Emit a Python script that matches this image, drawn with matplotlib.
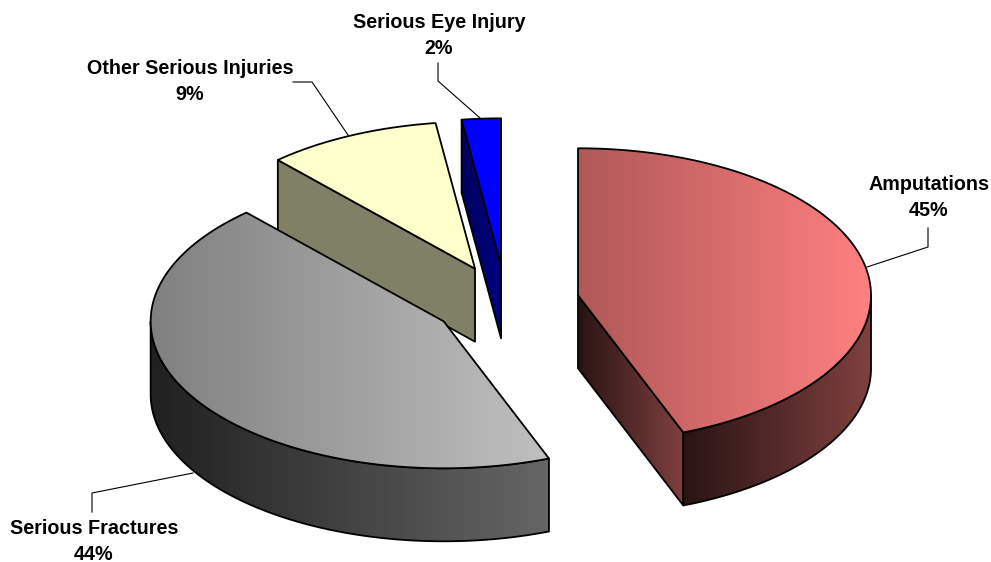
import numpy as np
import matplotlib
matplotlib.use('Agg')
import matplotlib.pyplot as plt
from matplotlib.colors import LinearSegmentedColormap
from matplotlib.patches import Polygon

plt.rcParams['font.family'] = ['Liberation Sans', 'DejaVu Sans']

# Data, clockwise from 12 o'clock
labels = ['Amputations', 'Serious Fractures', 'Other Serious Injuries', 'Serious Eye Injury']
pct_labels = ['45%', '44%', '9%', '2%']
values = [44.15, 44.1, 9.6, 2.15]

# colours: top left/right, rim left/right, cut left/right
top_cols = [('#b05858', '#ff8080'), ('#808080', '#c0c0c0'), ('#ffffcc', '#ffffcc'), ('#0000ff', '#0000ff')]
rim_cols = [('#2a1414', '#804040'), ('#202020', '#666666'), ('#808066', '#808066'), ('#000080', '#000080')]
cut_cols = [('#2a1414', '#804040'), ('#202020', '#666666'), ('#808066', '#808066'), ('#000060', '#000080')]

# label centres and leader lines in pixels
label_xy = [(929, 184), (94, 528), (190, 69), (439, 22)]
leaders = [
    ([928, 928, 867], [228, 247, 267]),
    ([92, 92, 193], [512, 493, 473]),
    ([293, 312, 348], [82, 82, 135]),
    ([438, 438, 480], [63, 81, 118]),
]

# pie geometry
cx, cy = 506, 302
rx, ry = 293, 147
depth = 73
explode = 0.25


def pt(c, a, r=1.0):
    return np.array([c[0] + rx * r * np.sin(a), c[1] - ry * r * np.cos(a)])


def fill(ax, poly, cols, z):
    poly = np.asarray(poly)
    x0, x1 = poly[:, 0].min(), poly[:, 0].max()
    y0, y1 = poly[:, 1].min(), poly[:, 1].max()
    cmap = LinearSegmentedColormap.from_list('g', cols)
    im = ax.imshow(np.linspace(0, 1, 256)[None, :], cmap=cmap, extent=(x0, x1, y1, y0),
                   aspect='auto', zorder=z, interpolation='bilinear')
    edge = Polygon(poly, closed=True, fc='none', ec='black', lw=1.3, zorder=z + 0.1, joinstyle='round')
    ax.add_patch(edge)
    im.set_clip_path(edge)


fig = plt.figure(figsize=(9.91, 5.62), dpi=100)
ax = fig.add_axes([0, 0, 1, 1])

edges = np.concatenate([[0], np.cumsum(values)]) / sum(values) * 2 * np.pi

# back slices first
for i in range(len(values)):
    a0, a1 = edges[i], edges[i + 1]
    c = pt((cx, cy), (a0 + a1) / 2, explode)
    z = 10 - i * 2
    apex_low = c + [0, depth]

    # cut faces, only the ones turned to the viewer
    if np.sin(a0) < -1e-6:
        p = pt(c, a0)
        fill(ax, [c, p, p + [0, depth], apex_low], cut_cols[i], z)
    if np.sin(a1) > 1e-6:
        p = pt(c, a1)
        fill(ax, [c, p, p + [0, depth], apex_low], cut_cols[i], z)

    # front rim
    r0 = max(a0, np.pi / 2)
    r1 = min(a1, 3 * np.pi / 2)
    if r1 > r0:
        arc = np.array([pt(c, a) for a in np.linspace(r0, r1, 120)])
        fill(ax, np.vstack([arc, arc[::-1] + [0, depth]]), rim_cols[i], z + 0.3)

    # top face
    arc = np.array([pt(c, a) for a in np.linspace(a0, a1, 150)])
    fill(ax, np.vstack([[c], arc]), top_cols[i], z + 0.6)

for i in range(len(labels)):
    lx, ly = leaders[i]
    ax.plot(lx, ly, color='black', lw=0.8, zorder=20, solid_joinstyle='miter')
    x, y = label_xy[i]
    ax.text(x, y, labels[i], ha='center', va='center', fontsize=14.2, fontweight='bold', zorder=21)
    ax.text(x, y + 26, pct_labels[i], ha='center', va='center', fontsize=14.2, fontweight='bold', zorder=21)

ax.set_xlim(0, 991)
ax.set_ylim(562, 0)
ax.axis('off')
fig.savefig('out.png', dpi=100, facecolor='white')
